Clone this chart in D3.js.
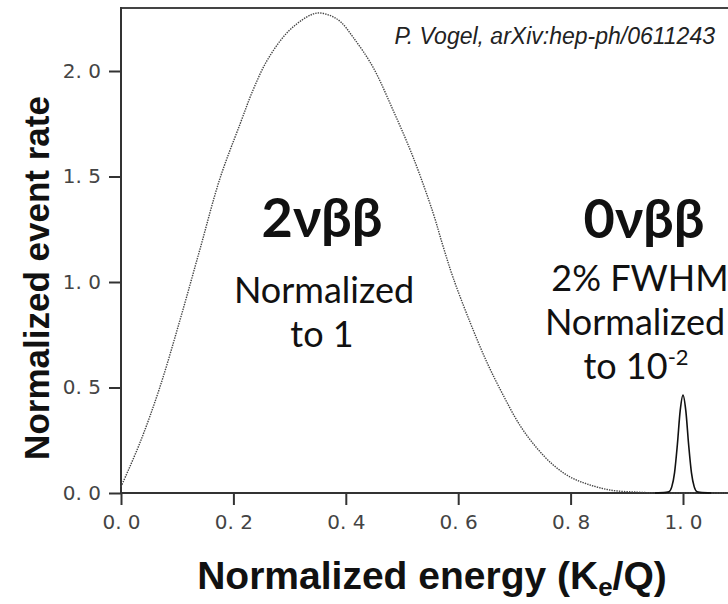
<!DOCTYPE html>
<html>
<head>
<meta charset="utf-8">
<script src="https://cdn.jsdelivr.net/npm/d3@7"></script>
<style>
  html, body { margin: 0; padding: 0; background: #fff; }
  svg { display: block; }
</style>
</head>
<body>
<svg id="chart" width="728" height="604"></svg>
<script>
// ---- data ----
const twoNuX = [0, 0.034, 0.069, 0.105, 0.141, 0.176, 0.212, 0.235, 0.26, 0.295, 0.33, 0.35, 0.37, 0.39, 0.413, 0.448, 0.484, 0.52, 0.555, 0.573, 0.591, 0.621, 0.651, 0.68, 0.71, 0.74, 0.769, 0.799, 0.829, 0.87, 0.918, 0.96, 1.09];
const twoNuY = [0.03, 0.24, 0.50, 0.82, 1.16, 1.49, 1.75, 1.91, 2.05, 2.18, 2.255, 2.275, 2.265, 2.235, 2.16, 2.02, 1.815, 1.59, 1.33, 1.17, 1.02, 0.81, 0.62, 0.464, 0.32, 0.213, 0.133, 0.076, 0.043, 0.014, 0.004, 0, 0];
const zeroNuX = [0.95, 0.97, 0.975, 0.98, 0.985, 0.99, 0.995, 1.0, 1.005, 1.01, 1.015, 1.02, 1.025, 1.03, 1.05];
const zeroNuY = [0, 0.003, 0.006, 0.029, 0.097, 0.23, 0.39, 0.464, 0.39, 0.23, 0.097, 0.029, 0.006, 0.003, 0];
const xTicks = [0, 0.2, 0.4, 0.6, 0.8, 1.0];
const xTickLabels = ["0. 0", "0. 2", "0. 4", "0. 6", "0. 8", "1. 0"];
const yTicks = [0, 0.5, 1.0, 1.5, 2.0];
const yTickLabels = ["0. 0", "0. 5", "1. 0", "1. 5", "2. 0"];

const svg = d3.select("#chart");
const x = d3.scaleLinear().domain([0, 1]).range([121, 683]);
const y = d3.scaleLinear().domain([0, 2]).range([493, 71]);
const axisColor = "#333";

// frame: top line and left axis line
svg.append("line").attr("x1", x(0)).attr("x2", 730).attr("y1", 8).attr("y2", 8)
  .attr("stroke", "#444").attr("stroke-width", 2);
svg.append("line").attr("x1", x(0)).attr("x2", x(0)).attr("y1", 7).attr("y2", y(0))
  .attr("stroke", axisColor).attr("stroke-width", 2);
svg.append("line").attr("x1", x(0)).attr("x2", 730).attr("y1", y(0)).attr("y2", y(0))
  .attr("stroke", axisColor).attr("stroke-width", 2);

// axes
const yAxis = d3.axisLeft(y).tickValues(yTicks).tickFormat((d, i) => yTickLabels[i]).tickSize(12).tickPadding(8);
const gy = svg.append("g").attr("transform", `translate(${x(0)},0)`).call(yAxis);
gy.select(".domain").remove();
gy.selectAll(".tick line").attr("stroke", axisColor).attr("stroke-width", 2);
gy.selectAll(".tick text").attr("fill", "#444").attr("font-family", "DejaVu Sans").attr("font-size", 20);

const xAxis = d3.axisBottom(x).tickValues(xTicks).tickFormat((d, i) => xTickLabels[i]).tickSize(12).tickPadding(10);
const gx = svg.append("g").attr("transform", `translate(0,${y(0)})`).call(xAxis);
gx.select(".domain").remove();
gx.selectAll(".tick line").attr("stroke", axisColor).attr("stroke-width", 2);
gx.selectAll(".tick text").attr("fill", "#444").attr("font-family", "DejaVu Sans").attr("font-size", 20);

// curves
const smooth = d3.line().x(d => x(d[0])).y(d => y(d[1])).curve(d3.curveCatmullRom.alpha(0.5));
const mono = d3.line().x(d => x(d[0])).y(d => y(d[1])).curve(d3.curveMonotoneX);
svg.append("path").datum(d3.zip(twoNuX, twoNuY)).attr("d", smooth)
  .attr("fill", "none").attr("stroke", "#444").attr("stroke-width", 1.4).attr("stroke-dasharray", "1.4,1.1");
svg.append("path").datum(d3.zip(zeroNuX, zeroNuY)).attr("d", mono)
  .attr("fill", "none").attr("stroke", "#111").attr("stroke-width", 1.6);

// axis titles
svg.append("text").attr("x", 432).attr("y", 589).attr("text-anchor", "middle")
  .attr("font-family", "Liberation Sans, Arial, sans-serif").attr("font-weight", "bold").attr("font-size", 39).attr("fill", "#111")
  .call(t => {
    t.append("tspan").text("Normalized energy (K");
    t.append("tspan").attr("dy", 7).attr("font-size", 26).text("e");
    t.append("tspan").attr("dy", -7).text("/Q)");
  });
svg.append("text").attr("transform", "translate(49,278) rotate(-90)").attr("text-anchor", "middle")
  .attr("font-family", "Liberation Sans, Arial, sans-serif").attr("font-weight", "bold").attr("font-size", 35).attr("fill", "#111")
  .text("Normalized event rate");

// annotations
svg.append("text").attr("x", 715).attr("y", 44).attr("text-anchor", "end")
  .attr("font-family", "Liberation Sans, Arial, sans-serif").attr("font-style", "italic").attr("font-size", 23).attr("fill", "#222")
  .text("P. Vogel, arXiv:hep-ph/0611243");

const ann = (tx, ty, s, size, weight) => svg.append("text").attr("x", tx).attr("y", ty).attr("text-anchor", "middle")
  .attr("font-family", "Lato, sans-serif").attr("font-weight", weight).attr("font-size", size).attr("fill", "#111").text(s);
ann(322, 237, "2νββ", 54, "bold");
ann(324, 303, "Normalized", 36, "normal");
ann(322, 347, "to 1", 36, "normal");
ann(644, 238, "0νββ", 54, "bold");
ann(640, 291, "2% FWHM", 36, "normal");
ann(635, 335, "Normalized", 36, "normal");
const t10 = svg.append("text").attr("x", 636).attr("y", 379).attr("text-anchor", "middle")
  .attr("font-family", "Lato, sans-serif").attr("font-size", 36).attr("fill", "#111");
t10.append("tspan").text("to 10");
t10.append("tspan").attr("dy", -14).attr("font-size", 22).text("-2");
</script>
</body>
</html>
